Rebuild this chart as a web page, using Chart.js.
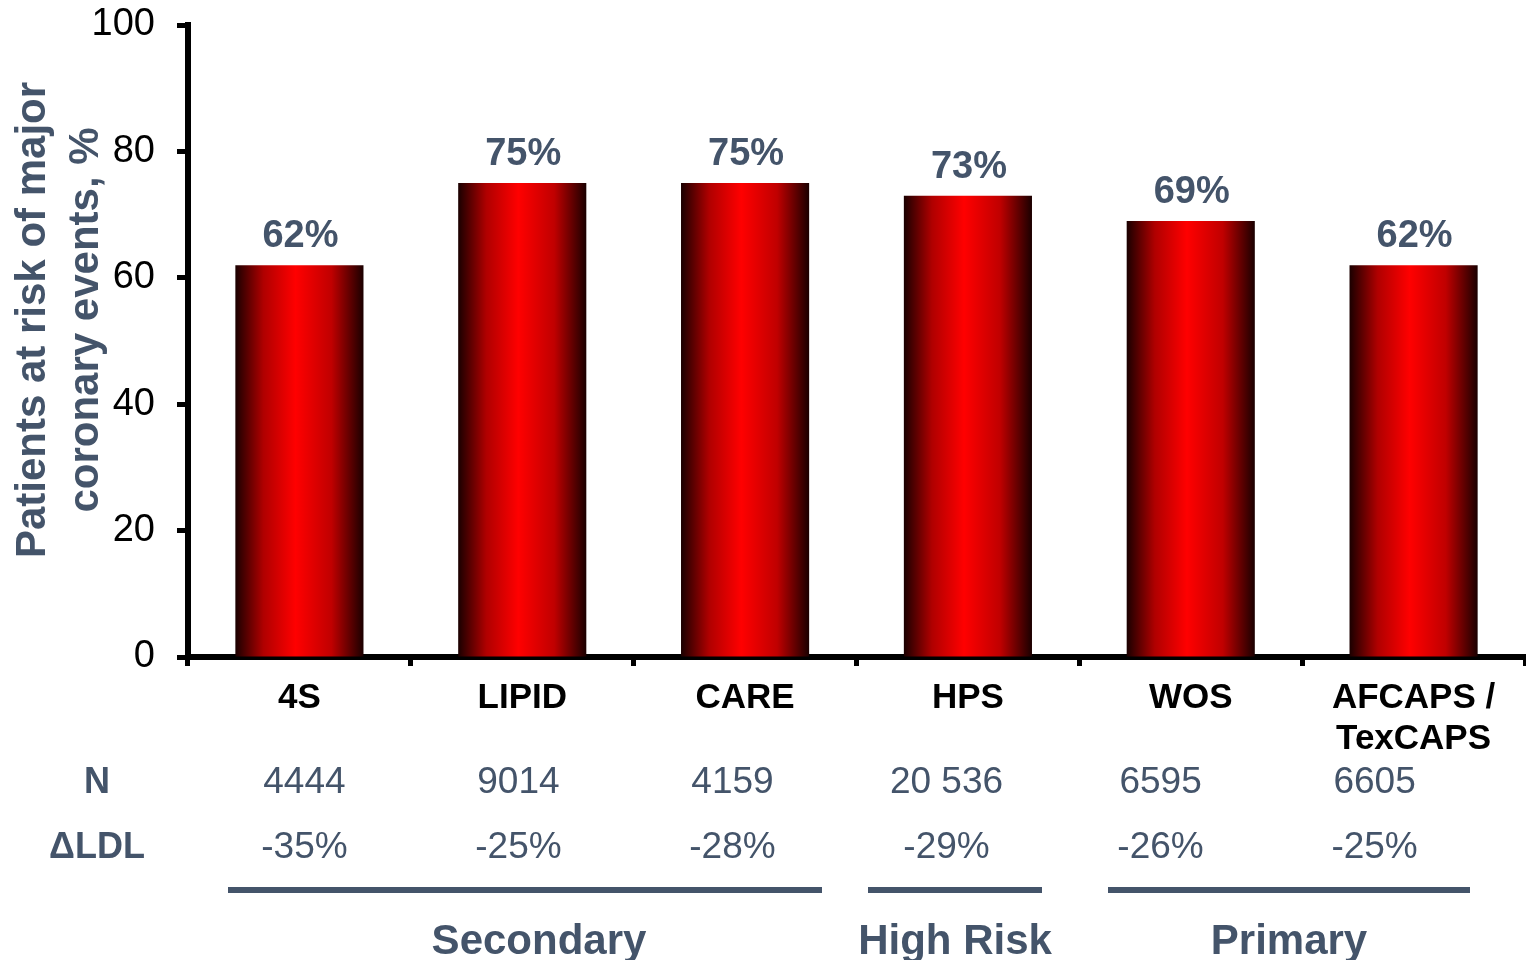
<!DOCTYPE html>
<html lang="en">
<head>
<meta charset="UTF-8">
<title>Patients at risk of major coronary events</title>
<style>
  body { margin: 0; background: #fff; }
  #wrap { width: 1526px; height: 960px; }
</style>
<script src="https://cdn.jsdelivr.net/npm/chart.js"></script>
</head>
<body>
<div id="wrap"><canvas id="chart"></canvas></div>
<script>
  // data
  const trials = [['4S'], ['LIPID'], ['CARE'], ['HPS'], ['WOS'], ['AFCAPS /', 'TexCAPS']];
  const riskPct = [62, 75, 75, 73, 69, 62];
  const patientsN = ['4444', '9014', '4159', '20 536', '6595', '6605'];
  const ldlChange = ['-35%', '-25%', '-28%', '-29%', '-26%', '-25%'];
  const groupNames = ['Secondary', 'High Risk', 'Primary'];
  const yTicks = [0, 20, 40, 60, 80, 100];
  const yTitle = ['Patients at risk of major', 'coronary events, %'];

  const slate = '#44546A';
  const font = '"Liberation Sans", Arial, sans-serif';
  const barPct = 0.575;

  function barFill(c) {
    const chart = c.chart;
    const xs = chart.scales.x;
    if (!chart.chartArea || !xs) return '#e00000';
    const cx = xs.getPixelForValue(c.dataIndex);
    const half = (xs.width / trials.length) * barPct / 2;
    const g = chart.ctx.createLinearGradient(cx - half, 0, cx + half, 0);
    g.addColorStop(0, '#1a0000');
    g.addColorStop(0.22, '#b00000');
    g.addColorStop(0.47, '#ff0000');
    g.addColorStop(0.75, '#c00000');
    g.addColorStop(1, '#1a0000');
    return g;
  }

  // value labels, axis title, the N / LDL table and the study-type brackets
  const extras = {
    id: 'extras',
    afterDatasetsDraw(chart) {
      const ctx = chart.ctx;
      const xs = chart.scales.x, ys = chart.scales.y;
      ctx.save();
      ctx.textAlign = 'center';
      ctx.textBaseline = 'alphabetic';
      ctx.fillStyle = slate;
      ctx.font = 'bold 38px ' + font;
      riskPct.forEach((v, i) => {
        ctx.fillText(v + '%', xs.getPixelForValue(i) + 1, ys.getPixelForValue(v) - 18);
      });

      // y axis title (two lines, rotated)
      ctx.save();
      ctx.translate(0, 320);
      ctx.rotate(-Math.PI / 2);
      ctx.textBaseline = 'middle';
      ctx.font = 'bold 42px ' + font;
      ctx.fillText(yTitle[0], 0, 33);
      ctx.fillText(yTitle[1], 0, 86);
      ctx.restore();

      // table rows
      ctx.textBaseline = 'middle';
      const colX0 = xs.getPixelForValue(0) + 5;
      const colX1 = xs.getPixelForValue(trials.length - 1) - 39;
      const step = (colX1 - colX0) / (trials.length - 1);
      ctx.font = 'bold 36px ' + font;
      ctx.fillText('N', 97, 783);
      ctx.fillText('\u0394LDL', 97, 848);
      ctx.font = '37px ' + font;
      patientsN.forEach((t, i) => ctx.fillText(t, colX0 + i * step, 783));
      ldlChange.forEach((t, i) => ctx.fillText(t, colX0 + i * step, 848));

      // brackets
      const lines = [[228, 822], [868, 1042], [1108, 1470]];
      ctx.strokeStyle = slate;
      ctx.lineWidth = 6;
      ctx.font = 'bold 42px ' + font;
      groupNames.forEach((name, i) => {
        const [a, b] = lines[i];
        ctx.beginPath();
        ctx.moveTo(a, 890);
        ctx.lineTo(b, 890);
        ctx.stroke();
        ctx.fillText(name, (a + b) / 2 + (i === 0 ? 14 : 0), 942);
      });
      ctx.restore();
    }
  };

  new Chart(document.getElementById('chart'), {
    type: 'bar',
    data: {
      labels: trials,
      datasets: [{
        data: riskPct,
        backgroundColor: barFill,
        borderWidth: 0,
        categoryPercentage: 1,
        barPercentage: barPct
      }]
    },
    options: {
      responsive: true,
      maintainAspectRatio: false,
      animation: false,
      layout: { padding: { top: 25, right: 1, left: 0, bottom: 0 } },
      plugins: {
        legend: { display: false },
        tooltip: { enabled: false }
      },
      scales: {
        x: {
          offset: true,
          afterFit(s) { s.height = 960 - 657; s.paddingRight = 0; s.paddingLeft = 0; },
          border: { color: '#000', width: 6 },
          grid: {
            offset: true,
            drawOnChartArea: false,
            drawTicks: true,
            tickLength: 9,
            tickWidth: 5,
            tickColor: '#000'
          },
          ticks: {
            color: '#000',
            font: { family: font, size: 35, weight: 'bold', lineHeight: 1.17 },
            padding: 12,
            maxRotation: 0,
            autoSkip: false
          }
        },
        y: {
          min: 0,
          max: 100,
          afterFit(s) { s.width = 188; s.paddingTop = 0; s.paddingBottom = 0; },
          afterBuildTicks(s) { s.ticks = yTicks.map(v => ({ value: v })); },
          border: { color: '#000', width: 6 },
          grid: {
            drawOnChartArea: false,
            drawTicks: true,
            tickLength: 11,
            tickWidth: 5,
            tickColor: '#000'
          },
          ticks: {
            color: '#000',
            font: { family: font, size: 38 },
            padding: 22
          }
        }
      }
    },
    plugins: [extras]
  });
</script>
</body>
</html>
